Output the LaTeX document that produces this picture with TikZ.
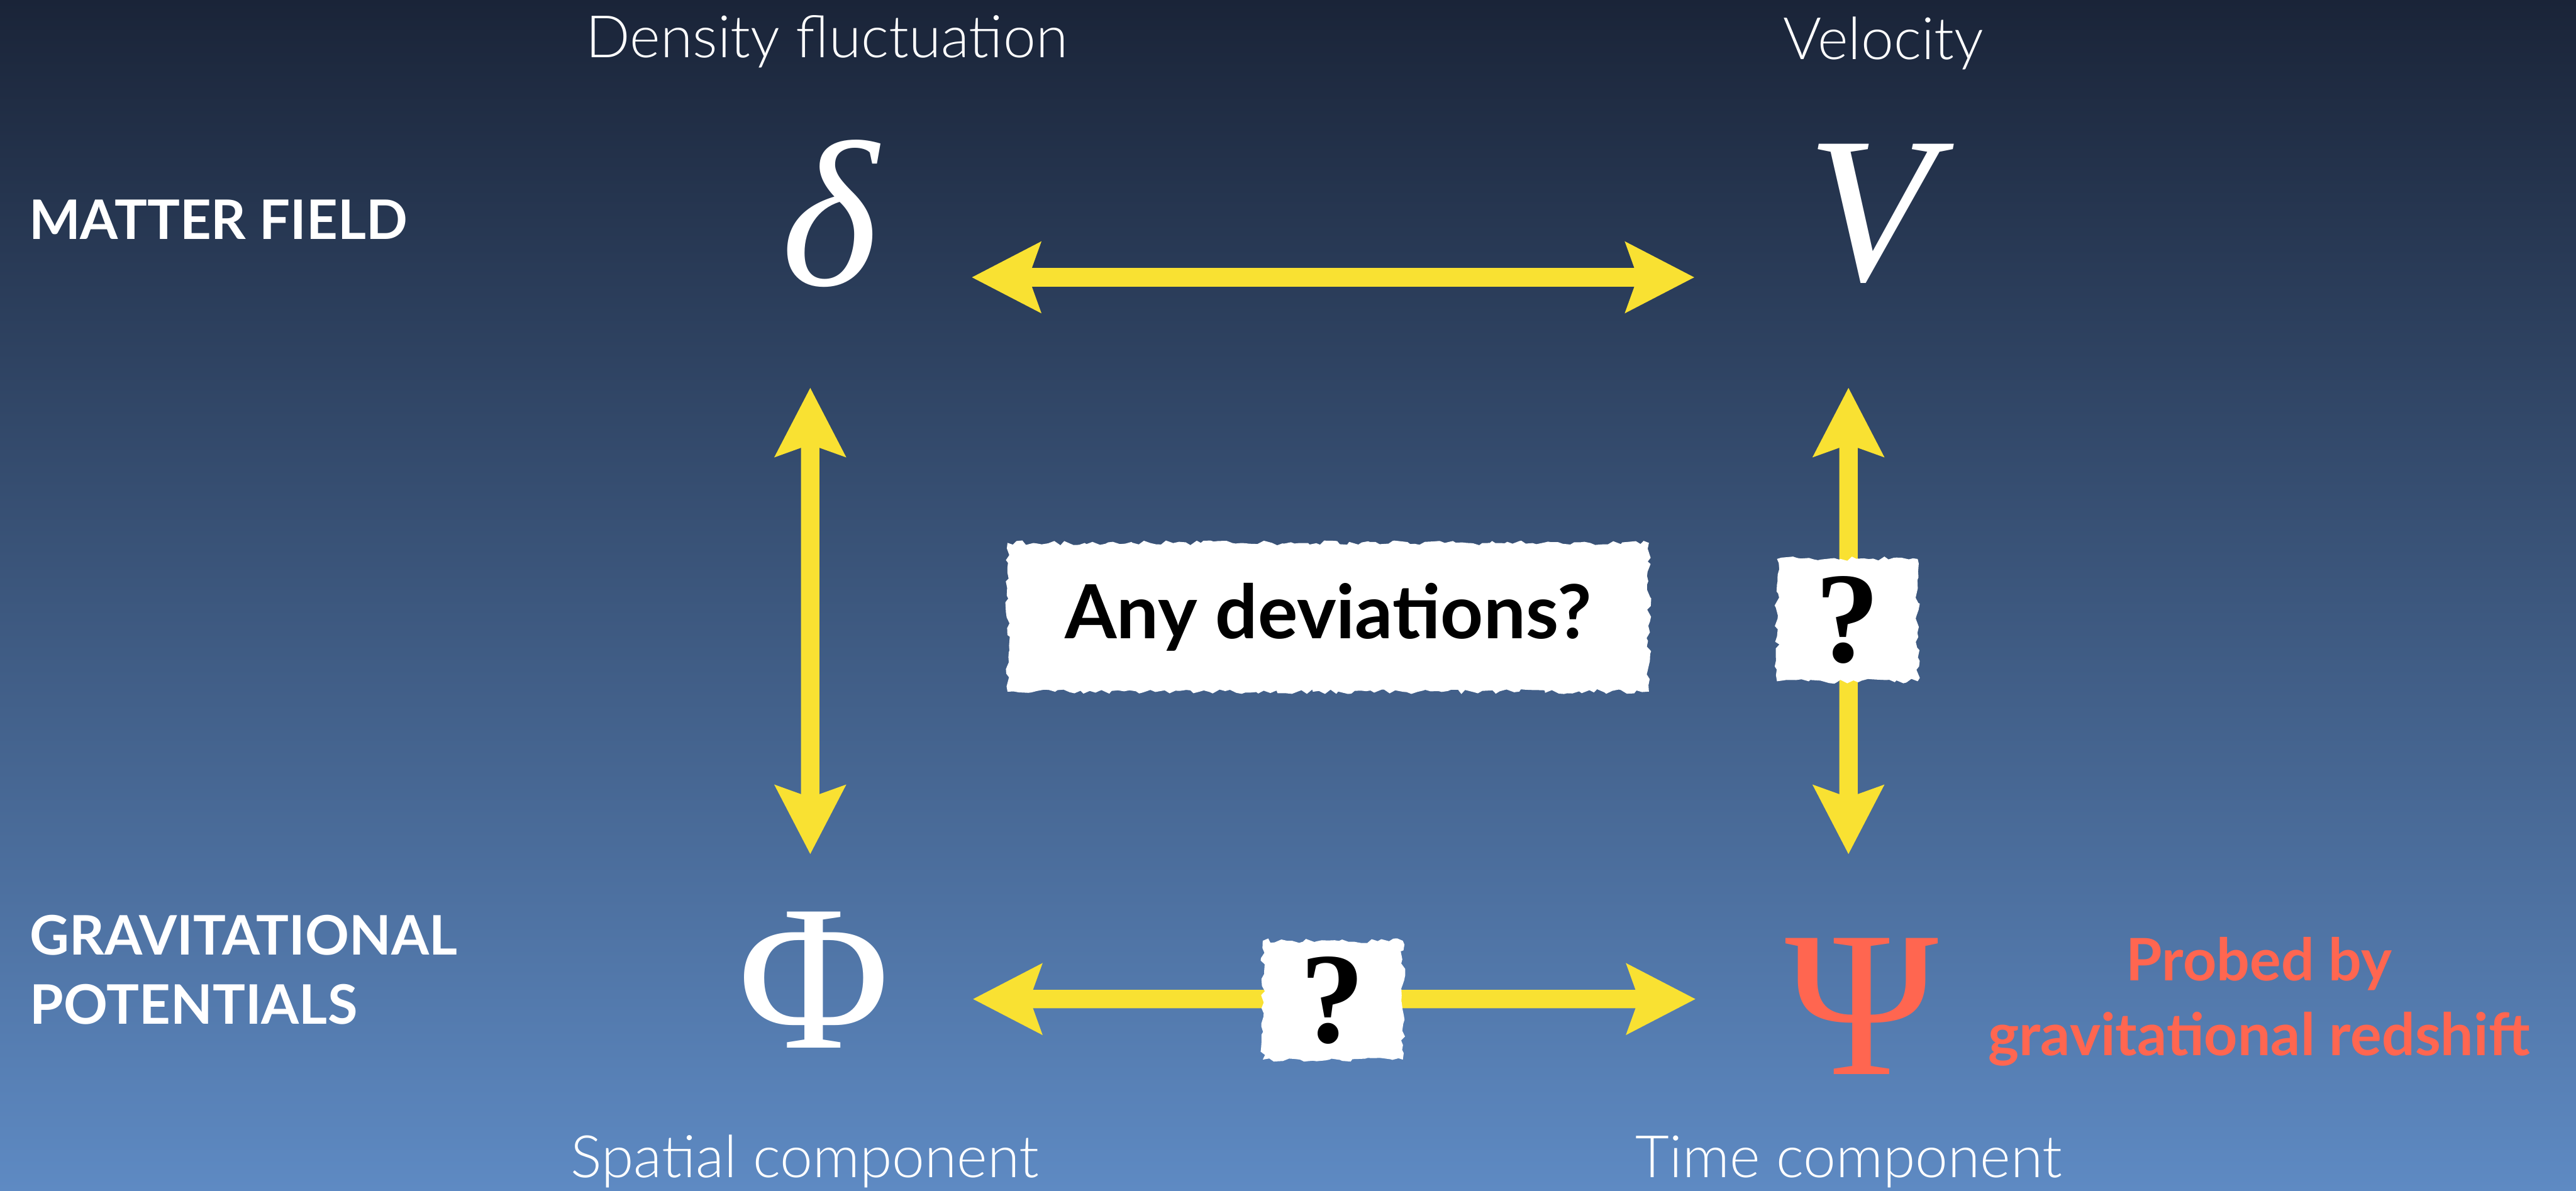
\documentclass[tikz,border=0pt]{standalone}
\usepackage{fontspec}
\usepackage{tikz}
\usetikzlibrary{arrows.meta,decorations.pathmorphing}
\newfontfamily\labelfont{Lato}
\newfontfamily\lightfont{Lato Light}
\newfontfamily\greekfont{Liberation Serif}
\definecolor{SkyTop}{HTML}{1A2438}
\definecolor{SkyBottom}{HTML}{5E8AC3}
\definecolor{LinkYellow}{HTML}{F9E132}
\definecolor{ProbeCoral}{HTML}{FF6650}

\begin{document}
\begin{tikzpicture}[
    rowlabel/.style={text=white, anchor=base west, align=left,
      font=\labelfont\bfseries\fontsize{27}{34}\selectfont},
    caption/.style={text=white, anchor=base,
      font=\lightfont\fontsize{29}{34}\selectfont},
    fieldsym/.style={text=white, inner sep=0pt,
      font=\greekfont\fontsize{103}{103}\selectfont},
    >={Stealth[length=1.19cm,width=1.2cm,inset=0.2cm]},
    twoway/.style={draw=LinkYellow, line width=0.32cm, <->},
    torn/.style={fill=white, inner sep=0pt, decorate,
      decoration={random steps, segment length=2.5pt, amplitude=1.2pt}},
    query/.style={torn, font=\greekfont\bfseries\fontsize{64}{64}\selectfont}
  ]
  \useasboundingbox (0,0) rectangle (44.86,-20.74);
  \shade[top color=SkyTop, bottom color=SkyBottom] (0,0) rectangle (44.86,-20.74);
  \pgfmathsetseed{11}

  % row labels
  \node[rowlabel] (matter) at (0.38,-4.17) {MATTER FIELD};
  \node[rowlabel] (gravity) at (0.40,-17.83) {GRAVITATIONAL\\POTENTIALS};

  % the four fields
  \node[fieldsym] (delta) at (14.45,-3.72) {\itshape δ};
  \node[fieldsym] (vel) at (32.58,-3.72) {\itshape V};
  \node[fieldsym] (phi) at (14.17,-17.07) {Φ};
  \node[fieldsym, text=ProbeCoral] (psi) at (32.42,-17.53) {Ψ};

  \node[caption] (densitycap) at (14.40,-1.00) {Density fluctuation};
  \node[caption] (velcap) at (32.80,-1.03) {Velocity};
  \node[caption] (spatialcap) at (14.02,-20.51) {Spatial component};
  \node[caption] (timecap) at (32.20,-20.51) {Time component};

  \node[text=ProbeCoral, align=center, anchor=base,
    font=\labelfont\bfseries\fontsize{29}{37}\selectfont] (probe) at (39.34,-18.38)
    {Probed by\\gravitational redshift};

  % links
  \draw[twoway] ([xshift=2.47cm,yshift=-1.11cm]delta.center) -- ([xshift=-3.07cm,yshift=-1.11cm]vel.center);
  \draw[twoway] ([xshift=-0.34cm,yshift=-3.03cm]delta.center) -- ([xshift=-0.06cm,yshift=2.19cm]phi.center);
  \draw[twoway] ([xshift=-0.39cm,yshift=-3.03cm]vel.center) -- ([xshift=-0.23cm,yshift=2.65cm]psi.center);
  \draw[twoway] ([xshift=2.77cm,yshift=-0.33cm]phi.center) -- ([xshift=-2.89cm,yshift=0.13cm]psi.center);

  % torn paper notes
  \node[torn, minimum width=11.17cm, minimum height=2.59cm,
    font=\labelfont\bfseries\fontsize{37}{37}\selectfont] (deviate) at (23.13,-10.75) {Any deviations?};
  \node[query, minimum width=2.45cm, minimum height=2.13cm] (askvert) at (32.17,-10.80) {?};
  \node[query, minimum width=2.44cm, minimum height=2.07cm] (askhorz) at (23.21,-17.42) {?};
\end{tikzpicture}
\end{document}
